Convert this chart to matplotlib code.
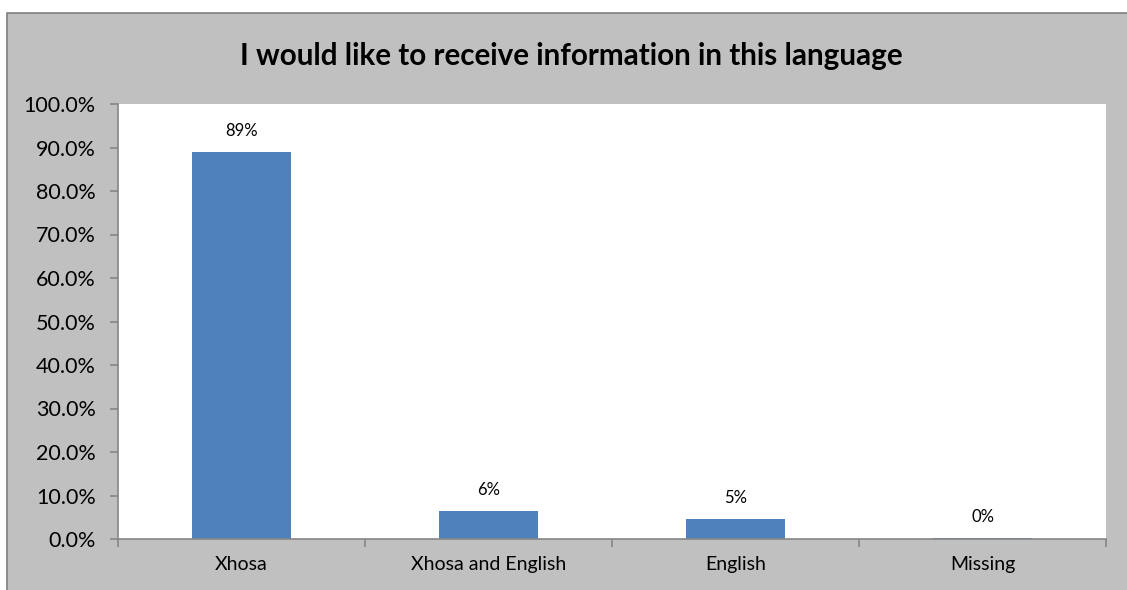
import matplotlib
matplotlib.use("Agg")
import matplotlib.pyplot as plt
from matplotlib.patches import Rectangle
from matplotlib.ticker import FuncFormatter, FixedLocator

categories = ["Xhosa", "Xhosa and English", "English", "Missing"]
shares = [0.889, 0.064, 0.046, 0.002]
title = "I would like to receive information in this language"

W, H = 1127, 590
fig = plt.figure(figsize=(W / 100, H / 100), dpi=100)
fig.patch.set_facecolor("white")

# grey chart area with a darker frame
fig.patches.append(Rectangle((6.5 / W, -0.1), 1.2, 1.1 - 13 / H, transform=fig.transFigure,
                             facecolor="#C0C0C0", edgecolor="#7F7F7F", linewidth=1.2,
                             zorder=-5))

ax = fig.add_axes([118 / W, (H - 539) / H, (1106 - 118) / W, (539 - 104) / H])
ax.set_zorder(2)
ax.set_facecolor("white")

x = list(range(len(categories)))
ax.bar(x, shares, width=0.4, color="#4F81BD", zorder=2)

for xi, v in zip(x, shares):
    ax.annotate(f"{v:.0%}", (xi, v), xytext=(0, 15), textcoords="offset points",
                ha="center", va="center", fontsize=12, family="Lato")

ax.set_xlim(-0.5, len(categories) - 0.5)
ax.set_ylim(0, 1.0)
ax.yaxis.set_major_locator(FixedLocator([i / 10 for i in range(11)]))
ax.yaxis.set_major_formatter(FuncFormatter(lambda v, _: f"{v * 100:.1f}%"))
ax.set_xticks(x)
ax.set_xticklabels(categories)
ax.xaxis.set_minor_locator(FixedLocator([i - 0.5 for i in range(len(categories) + 1)]))

for s in ("top", "right"):
    ax.spines[s].set_visible(False)
for s in ("left", "bottom"):
    ax.spines[s].set_color("#868686")
    ax.spines[s].set_linewidth(1.2)

ax.tick_params(axis="y", which="major", length=6, color="#868686", width=1.2,
               labelsize=15.5, pad=10)
ax.tick_params(axis="x", which="major", length=0, labelsize=14, pad=12)
ax.tick_params(axis="x", which="minor", length=5.5, color="#868686", width=1.2)
for lab in ax.get_xticklabels() + ax.get_yticklabels():
    lab.set_family("Lato")

fig.text(571 / W, 1 - 56 / H, title, ha="center", va="center", fontsize=21.3,
         fontweight="bold", family="Lato")

fig.savefig("out.png", dpi=100, facecolor=fig.get_facecolor())
